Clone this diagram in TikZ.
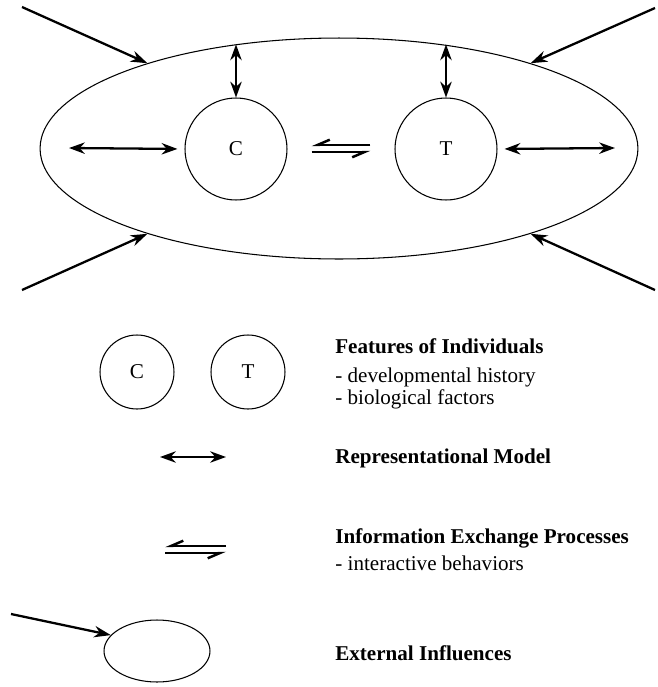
\documentclass[tikz,border=0pt]{standalone}
\usepackage{fontspec}
\setmainfont{Liberation Serif}
\usetikzlibrary{shapes.geometric, arrows.meta}

\tikzset{
  field/.style={ellipse, draw, line width=0.6pt, inner sep=0pt,
    minimum width=11.96cm, minimum height=4.42cm},
  person/.style={circle, draw, line width=0.6pt, inner sep=0pt, minimum size=2.04cm},
  link/.style={line width=1.3pt, {Stealth[length=9pt,width=6.5pt]}-{Stealth[length=9pt,width=6.5pt]}},
  push/.style={line width=1.3pt, -{Stealth[length=9.5pt,width=6.5pt]}},
  harp/.style={line width=1.4pt, -{Straight Barb[right,length=7pt,width=6pt]}},
  caption/.style={anchor=base west, inner sep=0pt}
}

\begin{document}
\begin{tikzpicture}[x=0.02cm, y=-0.02cm, font=\fontsize{12}{14}\selectfont]
\useasboundingbox (0,0) rectangle (658,687);

% Draw the field and the two individuals
\node[field] (field) at (339,148.5) {};
\node[person] (C) at (236,149) {C};
\node[person] (T) at (446,149) {T};

% Draw the representational models
\draw[link] (C.north) -- (C.north |- field.135);
\draw[link] (T.north) -- (T.north |- field.45);
\coordinate (cleft) at (69,148);
\coordinate (tright) at (615,148);
\draw[link, shorten >=4pt] (cleft) -- (C.west);
\draw[link, shorten <=4pt] (T.east) -- (tright);

% Draw the exchange between C and T
\draw[harp, shorten <=0.48cm, shorten >=0.48cm] ([yshift=2.3pt]T.west) -- ([yshift=2.3pt]C.east);
\draw[harp, shorten <=0.48cm, shorten >=0.48cm] ([yshift=-1.7pt]C.east) -- ([yshift=-1.7pt]T.west);

% Draw the external influences
\foreach \ang/\x/\y in {156/22/7, 24/655/8, 204/22/290, 336/655/290} {
  \coordinate (src\ang) at (\x,\y);
  \draw[push] (src\ang) -- (field.\ang);
}

% Legend: features of individuals
\node[person, minimum size=1.48cm] (lc) at (137,372) {C};
\node[person, minimum size=1.48cm] (lt) at (248,372) {T};
\node[caption, font=\fontsize{12}{14}\selectfont\bfseries] (features) at (335,353) {Features of Individuals};
\node[caption] (history) at (335,382) {- developmental history};
\node[caption] (biology) at (335,404) {- biological factors};

% Legend: representational model
\coordinate (ma) at (160,457);
\coordinate (mb) at (226,457);
\draw[link] (ma) -- (mb);
\node[caption, font=\fontsize{12}{14}\selectfont\bfseries] (model) at (335,463) {Representational Model};

% Legend: information exchange
\coordinate (ea) at (165,546);
\coordinate (eb) at (226,546);
\coordinate (ec) at (165,553);
\coordinate (ed) at (226,553);
\draw[harp] (eb) -- (ea);
\draw[harp] (ec) -- (ed);
\node[caption, font=\fontsize{12}{14}\selectfont\bfseries] (exchange) at (335,543) {Information Exchange Processes};
\node[caption] (behavior) at (335,570) {- interactive behaviors};

% Legend: external influences
\node[field, minimum width=2.12cm, minimum height=1.24cm] (lfield) at (157,651) {};
\coordinate (lsrc) at (11,614);
\draw[push] (lsrc) -- (lfield.161);
\node[caption, font=\fontsize{12}{14}\selectfont\bfseries] (external) at (335,660) {External Influences};

\end{tikzpicture}
\end{document}
